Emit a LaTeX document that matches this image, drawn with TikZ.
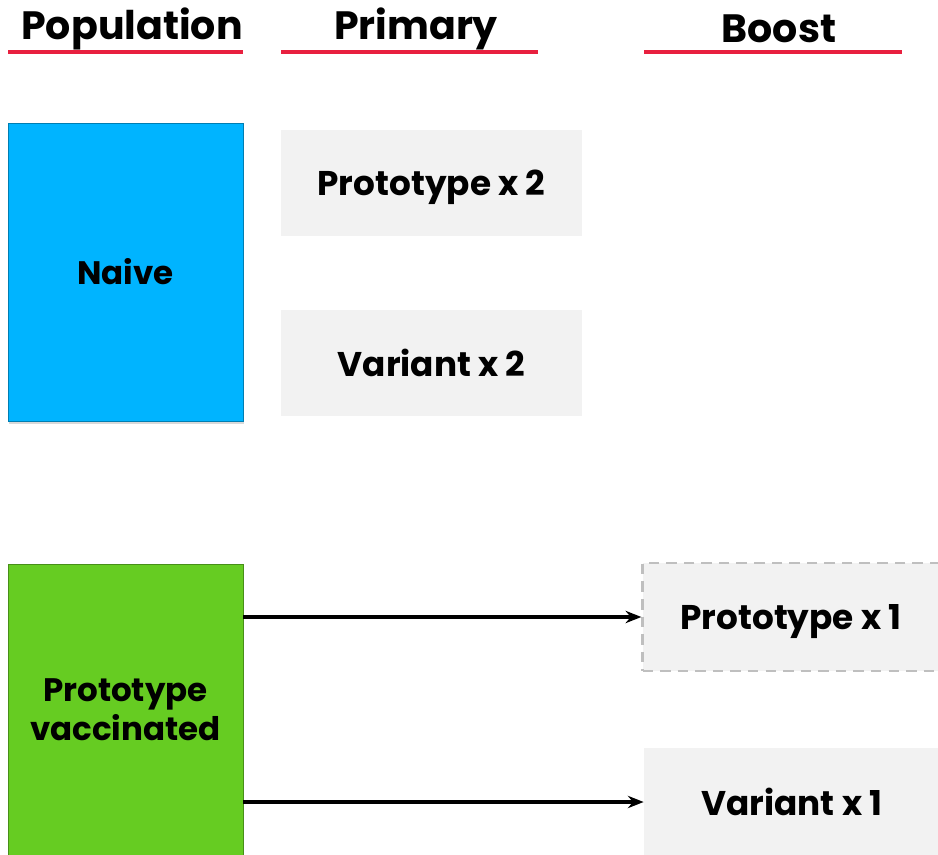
\documentclass[tikz,border=0pt]{standalone}
\usepackage{fontspec}
\setmainfont{Poppins}
\usepackage{xcolor}
\usetikzlibrary{arrows.meta,positioning,shadows}
\definecolor{hdred}{RGB}{232,32,63}
\definecolor{naiveblue}{RGB}{0,180,255}
\definecolor{vacgreen}{RGB}{102,204,34}
\definecolor{boxgray}{RGB}{242,242,242}

\begin{document}
\begin{tikzpicture}[x=0.02cm,y=-0.02cm,>={Stealth[length=9pt,width=7pt]},
  hd/.style={font=\fontsize{22.5}{26}\selectfont\bfseries},
  uline/.style={hdred,line width=2pt},
  pop/.style={draw,minimum width=4.7cm,font=\fontsize{18.5}{22}\selectfont\bfseries,align=center,
    drop shadow={shadow xshift=0.5pt,shadow yshift=-1.5pt,opacity=0.3}},
  vx/.style={fill=boxgray,minimum height=2.12cm,text depth=0.1ex,font=\fontsize{19.5}{23}\selectfont\bfseries}]
  \useasboundingbox (0,0) rectangle (938,855);
  \node[hd](hpop)at(132,29){Population};\node[hd](hpri)at(416,29){Primary};
  \node[hd](hbst)at(779,29){Boost};
  \draw[uline] (8,52)--(243,52); \draw[uline] (281,52)--(538,52); \draw[uline] (644,52)--(902,52);
  \node[pop,fill=naiveblue,draw=naiveblue!70!black,minimum height=5.96cm](naive)at(125.5,272){Naive};
  \node[pop,fill=vacgreen,draw=vacgreen!70!black,minimum height=5.82cm](vac)at(125.5,710){Prototype\\vaccinated};
  \node[vx,minimum width=6.02cm](pp2)at(431.5,183){Prototype x 2};
  \node[vx,minimum width=6.02cm](vp2)at(431.5,363){Variant x 2};
  \node[vx,draw=gray!50,dashed,line width=1.3pt,dash pattern=on 6pt off 4pt,minimum width=5.94cm,minimum height=2.16cm](pb1)at(791,617){Prototype x 1};
  \node[vx,minimum width=5.92cm,minimum height=2.18cm](vb1)at(792,802){Variant x 1};
  \draw[->,line width=2pt] (vac.east |- pb1.west) -- (pb1.west);
  \draw[->,line width=2pt] (vac.east |- vb1.west) -- (vb1.west);
\end{tikzpicture}
\end{document}
